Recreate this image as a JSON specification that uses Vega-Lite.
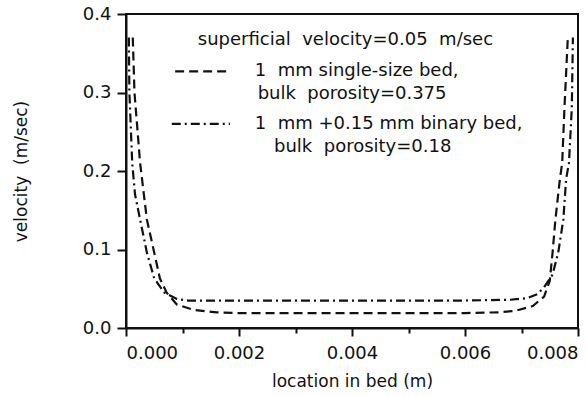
{
  "$schema": "https://vega.github.io/schema/vega-lite/v6.json",
  "width": 452,
  "height": 314,
  "autosize": {"type": "none"},
  "padding": {"left": 126, "top": 14, "right": 9, "bottom": 68},
  "background": "white",
  "config": {
    "font": "DejaVu Sans",
    "view": {"stroke": "#111", "strokeWidth": 2},
    "axis": {
      "grid": false,
      "domainColor": "#111",
      "domainWidth": 2,
      "tickColor": "#111",
      "tickWidth": 2,
      "labelColor": "#111",
      "labelFont": "DejaVu Sans",
      "labelFontSize": 18,
      "titleFont": "DejaVu Sans",
      "titleFontSize": 17,
      "titleFontWeight": "normal",
      "titleColor": "#111"
    }
  },
  "datasets": {
    "curves": [
      {"bed": "binary", "x": 0.00005, "v": 0.37},
      {"bed": "binary", "x": 0.00006, "v": 0.30},
      {"bed": "binary", "x": 0.00011, "v": 0.21},
      {"bed": "binary", "x": 0.00016, "v": 0.17},
      {"bed": "binary", "x": 0.00025, "v": 0.138},
      {"bed": "binary", "x": 0.00037, "v": 0.096},
      {"bed": "binary", "x": 0.0005, "v": 0.063},
      {"bed": "binary", "x": 0.00068, "v": 0.045},
      {"bed": "binary", "x": 0.0009, "v": 0.037},
      {"bed": "binary", "x": 0.0011, "v": 0.035},
      {"bed": "binary", "x": 0.002, "v": 0.035},
      {"bed": "binary", "x": 0.003, "v": 0.035},
      {"bed": "binary", "x": 0.004, "v": 0.035},
      {"bed": "binary", "x": 0.005, "v": 0.035},
      {"bed": "binary", "x": 0.006, "v": 0.035},
      {"bed": "binary", "x": 0.0068, "v": 0.036},
      {"bed": "binary", "x": 0.0071, "v": 0.038},
      {"bed": "binary", "x": 0.00728, "v": 0.043},
      {"bed": "binary", "x": 0.0074, "v": 0.052},
      {"bed": "binary", "x": 0.00755, "v": 0.068},
      {"bed": "binary", "x": 0.00765, "v": 0.096},
      {"bed": "binary", "x": 0.00774, "v": 0.138},
      {"bed": "binary", "x": 0.00779, "v": 0.19},
      {"bed": "binary", "x": 0.00784, "v": 0.21},
      {"bed": "binary", "x": 0.00789, "v": 0.28},
      {"bed": "binary", "x": 0.00791, "v": 0.37},
      {"bed": "single", "x": 0.00012, "v": 0.37},
      {"bed": "single", "x": 0.00015, "v": 0.30},
      {"bed": "single", "x": 0.00025, "v": 0.21},
      {"bed": "single", "x": 0.0003, "v": 0.18},
      {"bed": "single", "x": 0.00037, "v": 0.138},
      {"bed": "single", "x": 0.0005, "v": 0.096},
      {"bed": "single", "x": 0.0006, "v": 0.063},
      {"bed": "single", "x": 0.00072, "v": 0.045},
      {"bed": "single", "x": 0.0009, "v": 0.030},
      {"bed": "single", "x": 0.0012, "v": 0.023},
      {"bed": "single", "x": 0.0016, "v": 0.020},
      {"bed": "single", "x": 0.002, "v": 0.019},
      {"bed": "single", "x": 0.003, "v": 0.019},
      {"bed": "single", "x": 0.004, "v": 0.019},
      {"bed": "single", "x": 0.005, "v": 0.019},
      {"bed": "single", "x": 0.006, "v": 0.019},
      {"bed": "single", "x": 0.0066, "v": 0.020},
      {"bed": "single", "x": 0.0069, "v": 0.022},
      {"bed": "single", "x": 0.0072, "v": 0.028},
      {"bed": "single", "x": 0.0074, "v": 0.040},
      {"bed": "single", "x": 0.0075, "v": 0.060},
      {"bed": "single", "x": 0.00755, "v": 0.096},
      {"bed": "single", "x": 0.0076, "v": 0.138},
      {"bed": "single", "x": 0.00768, "v": 0.19},
      {"bed": "single", "x": 0.00772, "v": 0.21},
      {"bed": "single", "x": 0.00776, "v": 0.28},
      {"bed": "single", "x": 0.00782, "v": 0.37}
    ],
    "legendLines": [
      {"bed": "single", "x": 0.00087, "x2": 0.00184, "v": 0.327},
      {"bed": "binary", "x": 0.00081, "x2": 0.00184, "v": 0.260}
    ],
    "labels": [
      {"x": 0.00127, "v": 0.367, "text": "superficial \u00a0velocity=0.05 \u00a0m/sec"},
      {"x": 0.00228, "v": 0.327, "text": "1 \u00a0mm single-size bed,"},
      {"x": 0.00233, "v": 0.298, "text": "bulk \u00a0porosity=0.375"},
      {"x": 0.00228, "v": 0.260, "text": "1 \u00a0mm +0.15 mm binary bed,"},
      {"x": 0.00262, "v": 0.231, "text": "bulk \u00a0porosity=0.18"}
    ]
  },
  "layer": [
    {
      "data": {"name": "curves"},
      "mark": {"type": "line", "color": "#111", "strokeWidth": 2.2},
      "encoding": {
        "x": {
          "field": "x", "type": "quantitative",
          "scale": {"domain": [0, 0.008], "nice": false, "zero": false},
          "axis": {
            "title": "location in bed (m)",
            "values": [0, 0.001, 0.002, 0.003, 0.004, 0.005, 0.006, 0.007, 0.008],
            "labelExpr": "round(datum.value*10000) % 20 == 0 ? format(datum.value, '.3f') : ''",
            "tickSize": {"condition": {"test": "round(datum.value*10000) % 20 == 0", "value": 8}, "value": 5},
            "labelPadding": 8,
            "titlePadding": 11
          }
        },
        "y": {
          "field": "v", "type": "quantitative",
          "scale": {"domain": [0, 0.4], "nice": false},
          "axis": {
            "title": "velocity \u00a0(m/sec)",
            "values": [0, 0.05, 0.1, 0.15, 0.2, 0.25, 0.3, 0.35, 0.4],
            "labelExpr": "round(datum.value*100) % 10 == 0 ? format(datum.value, '.1f') : ''",
            "tickSize": {"condition": {"test": "round(datum.value*100) % 10 == 0", "value": 9}, "value": 5},
            "labelPadding": 6,
            "titlePadding": 52
          }
        },
        "strokeDash": {
          "field": "bed", "type": "nominal",
          "scale": {"domain": ["single", "binary"], "range": [[9, 5], [9, 4, 2, 4]]},
          "legend": null
        }
      }
    },
    {
      "data": {"name": "legendLines"},
      "mark": {"type": "rule", "color": "#111", "strokeWidth": 2.2},
      "encoding": {
        "x": {"field": "x", "type": "quantitative"},
        "x2": {"field": "x2"},
        "y": {"field": "v", "type": "quantitative"},
        "strokeDash": {
          "field": "bed", "type": "nominal",
          "scale": {"domain": ["single", "binary"], "range": [[9, 5], [9, 4, 2, 4]]},
          "legend": null
        }
      }
    },
    {
      "data": {"name": "labels"},
      "mark": {"type": "text", "align": "left", "baseline": "middle", "fontSize": 18, "color": "#111", "font": "DejaVu Sans"},
      "encoding": {
        "x": {"field": "x", "type": "quantitative"},
        "y": {"field": "v", "type": "quantitative"},
        "text": {"field": "text"}
      }
    }
  ]
}
